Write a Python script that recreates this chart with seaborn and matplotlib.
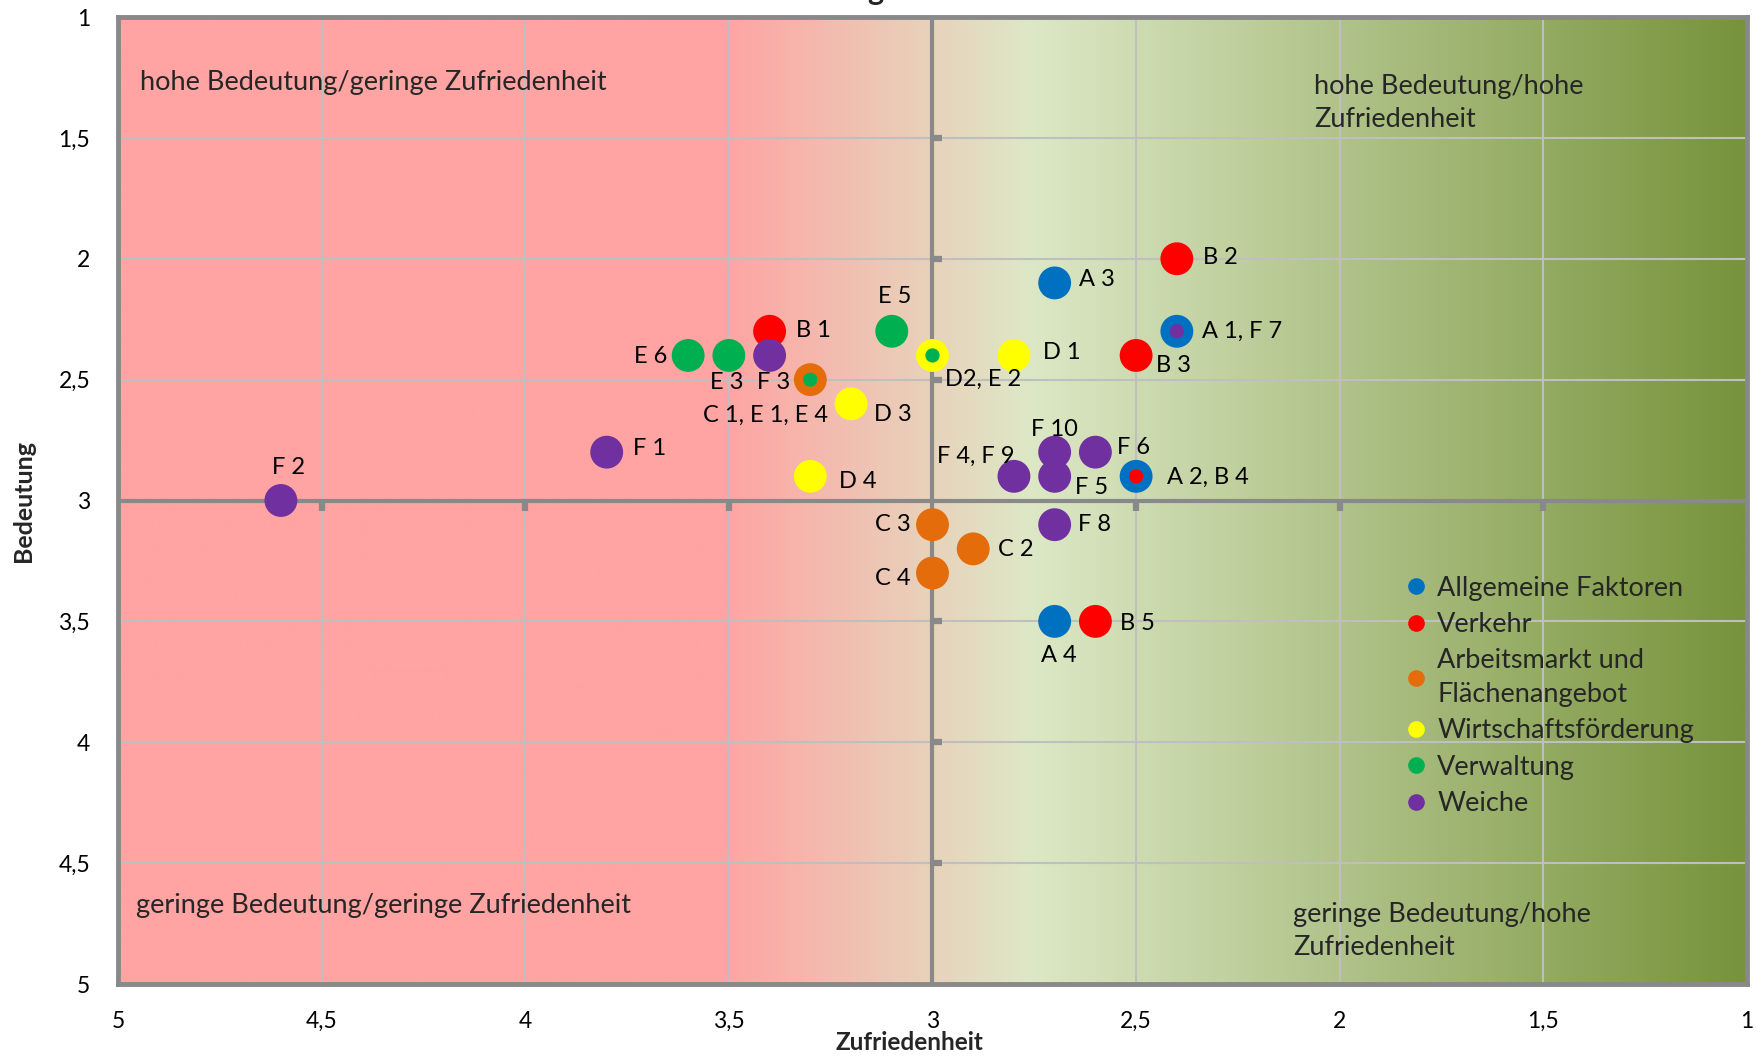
import matplotlib
matplotlib.use("Agg")
import matplotlib.pyplot as plt
from matplotlib.colors import LinearSegmentedColormap
from matplotlib.lines import Line2D
import numpy as np
import pandas as pd
import seaborn as sns

# ---------------- data ----------------
groups = ["Allgemeine Faktoren", "Verkehr", "Arbeitsmarkt und\nFlächenangebot",
          "Wirtschaftsförderung", "Verwaltung", "Weiche"]
group_colors = ["#0070C0", "#FF0000", "#E46C0A", "#FFFF00", "#00B050", "#7030A0"]

point_labels = ["A 3", "A 1, F 7", "A 2, B 4", "A 4",
                "B 1", "B 2", "B 3", "B 5",
                "C 1, E 1, E 4", "C 2", "C 3", "C 4",
                "D 1", "D2, E 2", "D 3", "D 4",
                "E 3", "E 5", "E 6",
                "F 1", "F 2", "F 3", "F 4, F 9", "F 5", "F 6", "F 8", "F 10"]
zufriedenheit = [2.7, 2.4, 2.5, 2.7,
                 3.4, 2.4, 2.5, 2.6,
                 3.3, 2.9, 3.0, 3.0,
                 2.8, 3.0, 3.2, 3.3,
                 3.5, 3.1, 3.6,
                 3.8, 4.6, 3.4, 2.8, 2.7, 2.6, 2.7, 2.7]
bedeutung = [2.1, 2.3, 2.9, 3.5,
             2.3, 2.0, 2.4, 3.5,
             2.5, 3.2, 3.1, 3.3,
             2.4, 2.4, 2.6, 2.9,
             2.4, 2.3, 2.4,
             2.8, 3.0, 2.4, 2.9, 2.9, 2.8, 3.1, 2.8]
point_group = [0, 0, 0, 0,
               1, 1, 1, 1,
               2, 2, 2, 2,
               3, 3, 3, 3,
               4, 4, 4,
               5, 5, 5, 5, 5, 5, 5, 5]

# overlapping points drawn as small dots inside the bigger ones
inner_labels = ["F 7", "B 4", "E 1, E 4", "E 2"]
inner_x = [2.4, 2.5, 3.3, 3.0]
inner_y = [2.3, 2.9, 2.5, 2.4]
inner_group = [5, 1, 4, 4]

x_ticks = [5, 4.5, 4, 3.5, 3, 2.5, 2, 1.5, 1]
x_tick_labels = ["5", "4,5", "4", "3,5", "3", "2,5", "2", "1,5", "1"]
y_ticks = [1, 1.5, 2, 2.5, 3, 3.5, 4, 4.5, 5]
y_tick_labels = ["1", "1,5", "2", "2,5", "3", "3,5", "4", "4,5", "5"]

quadrant_texts = ["hohe Bedeutung/geringe Zufriedenheit", "hohe Bedeutung/hohe\nZufriedenheit",
                  "geringe Bedeutung/geringe Zufriedenheit", "geringe Bedeutung/hohe\nZufriedenheit"]

# ---------------- styling ----------------
# label offsets in pixels (dx, dy screen-down positive) and alignment
label_pos = {
    "A 3": (24, -3, "left"), "A 1, F 7": (25, 0, "left"), "A 2, B 4": (31, 1, "left"),
    "A 4": (4, 34, "center"), "B 1": (26, -1, "left"), "B 2": (26, -1, "left"),
    "B 3": (20, 10, "left"), "B 5": (25, 2, "left"), "C 1, E 1, E 4": (18, 36, "right"),
    "C 2": (25, 1, "left"), "C 3": (-22, 0, "right"), "C 4": (-22, 5, "right"),
    "D 1": (29, -3, "left"), "D2, E 2": (13, 24, "left"), "D 3": (23, 11, "left"),
    "D 4": (29, 5, "left"), "E 3": (-2, 27, "center"), "E 5": (3, -35, "center"),
    "E 6": (-21, 1, "right"), "F 1": (26, -4, "left"), "F 2": (8, -33, "center"),
    "F 3": (4, 27, "center"), "F 4, F 9": (1, -20, "right"), "F 5": (20, 11, "left"),
    "F 6": (22, -5, "left"), "F 8": (23, 0, "left"), "F 10": (0, -23, "center"),
}

sns.set_theme(style="white")
plt.rcParams["font.family"] = ["Lato", "DejaVu Sans"]

df = pd.DataFrame({"x": zufriedenheit, "y": bedeutung,
                   "group": [groups[g] for g in point_group], "label": point_labels})
df_in = pd.DataFrame({"x": inner_x, "y": inner_y,
                      "group": [groups[g] for g in inner_group]})
palette = dict(zip(groups, group_colors))

fig = plt.figure(figsize=(17.58, 10.57), dpi=100)
ax = fig.add_axes([0.06712, 0.06906, 0.92662, 0.91485])

# background gradient
cmap = LinearSegmentedColormap.from_list(
    "bg", [(0.0, "#FFA3A3"), (0.37, "#FFA3A3"), (0.56, "#DDE8C6"), (1.0, "#77933C")])
grad = np.linspace(0, 1, 600).reshape(1, -1)
ax.imshow(grad, cmap=cmap, extent=(5, 1, 5, 1), aspect="auto", zorder=0,
          interpolation="bilinear")

ax.set_xlim(5, 1)
ax.set_ylim(5, 1)
ax.set_xticks(x_ticks)
ax.set_xticklabels(x_tick_labels)
ax.set_yticks(y_ticks)
ax.set_yticklabels(y_tick_labels)
ax.tick_params(axis="both", length=0, labelsize=16.5, colors="black")
ax.tick_params(axis="x", pad=19.5)
ax.tick_params(axis="y", pad=20)
ax.grid(True, color="#BFBFBF", linewidth=1.5, zorder=0.5)
ax.set_axisbelow(True)

for sp in ax.spines.values():
    sp.set_color("#898989")
    sp.set_linewidth(3.5)
    sp.set_zorder(5)

# quadrant lines
ax.axvline(3, color="#898989", linewidth=3.0, zorder=1)
ax.axhline(3, color="#898989", linewidth=3.0, zorder=1)
tx = [v for v in x_ticks if v not in (5, 3, 1)]
ty = [v for v in y_ticks if v not in (1, 3, 5)]
ax.plot(tx, [3] * len(tx), ls="none", marker=3, markersize=7, mew=4.5,
        color="#898989", zorder=1)
ax.plot([3] * len(ty), ty, ls="none", marker=1, markersize=7, mew=4.5,
        color="#898989", zorder=1)

sns.scatterplot(data=df, x="x", y="y", hue="group", palette=palette, s=560,
                edgecolor="none", linewidth=0, legend=False, ax=ax, zorder=3)
sns.scatterplot(data=df_in, x="x", y="y", hue="group", palette=palette, s=105,
                edgecolor="none", linewidth=0, legend=False, ax=ax, zorder=4)

for lab, xv, yv in zip(point_labels, zufriedenheit, bedeutung):
    dx, dy, ha = label_pos[lab]
    ax.annotate(lab, (xv, yv), xytext=(dx, -dy), textcoords="offset pixels",
                ha=ha, va="center", fontsize=17, color="black", zorder=6)

# quadrant texts
qfs = 19.5
ax.text(4.946, 1.269, quadrant_texts[0], ha="left", va="center", fontsize=qfs)
ax.text(2.063, 1.356, quadrant_texts[1], ha="left", va="center", fontsize=qfs,
        linespacing=1.43)
ax.text(4.956, 4.677, quadrant_texts[2], ha="left", va="center", fontsize=qfs)
ax.text(2.115, 4.781, quadrant_texts[3], ha="left", va="center", fontsize=qfs,
        linespacing=1.43)

ax.set_xlabel("Zufriedenheit", fontsize=17.5, fontweight="bold")
ax.xaxis.set_label_coords(0.4856, -0.0486)
ax.set_ylabel("Bedeutung", fontsize=18, fontweight="bold", labelpad=17)

handles = [Line2D([0], [0], marker="o", ls="none", markersize=12,
                  markerfacecolor=c, markeredgecolor="none") for c in group_colors]
leg = ax.legend(handles, groups, loc="upper left", bbox_to_anchor=(0.784, 0.4335),
                frameon=False, fontsize=qfs, handlelength=0.75, handletextpad=0.4,
                labelspacing=0.42, borderaxespad=0)
for t in leg.get_texts():
    t.set_linespacing(1.43)

# clipped title fragment at the very top
fig.text(0.4977, 1.0, "g", ha="center", va="baseline", fontsize=22,
         fontweight="bold")

fig.savefig("out.png", dpi=100)
